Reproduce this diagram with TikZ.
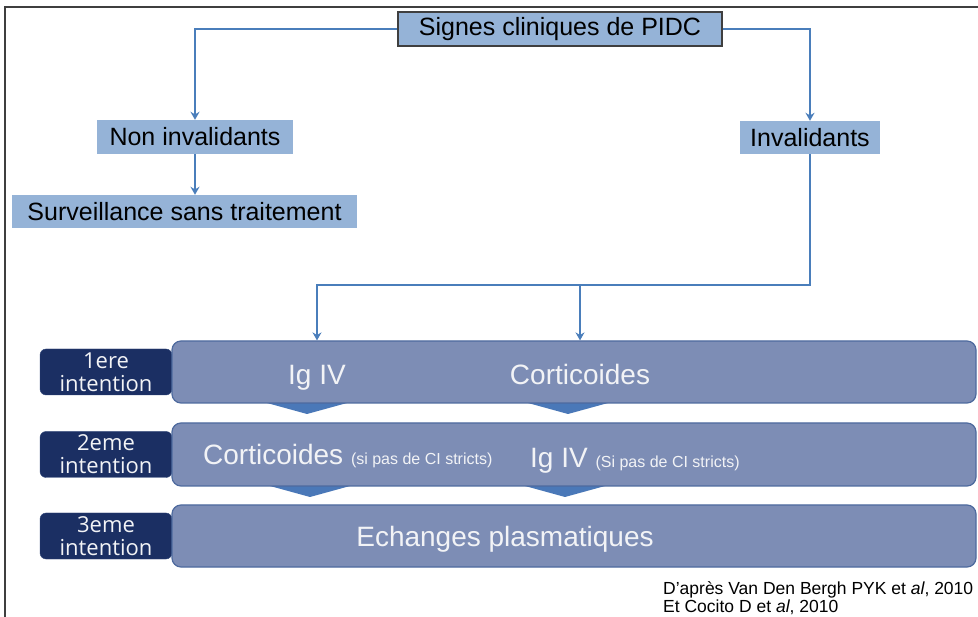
\documentclass[tikz,border=0pt]{standalone}
\usepackage{fontspec}
\setmainfont{Liberation Sans}
\newfontfamily\labelfont{Open Sans}
\usepackage{xcolor}
\usetikzlibrary{arrows.meta,positioning,calc}
\definecolor{topblue}{HTML}{95B3D7}
\definecolor{topedge}{HTML}{3F3F3F}
\definecolor{linkblue}{HTML}{4A7EBB}
\definecolor{barfill}{HTML}{7D8DB5}
\definecolor{baredge}{HTML}{4E6A9E}
\definecolor{chevblue}{HTML}{4A78B8}
\definecolor{navy}{HTML}{1B2F63}
\definecolor{navyedge}{HTML}{2C4478}
\definecolor{bartext}{HTML}{F2F3F6}
\newcommand{\cisize}{\fontsize{16}{18}\selectfont}

\begin{document}
\begin{tikzpicture}[
  x=1pt,y=-1pt,
  font=\fontsize{25}{28}\selectfont,
  topbox/.style={fill=topblue,inner sep=0pt,minimum height=34pt},
  bar/.style={draw=baredge,fill=barfill,line width=1.2pt,rounded corners=9pt,
              minimum width=804pt,inner sep=0pt},
  rank/.style={draw=navyedge,fill=navy,rounded corners=6pt,text=bartext,align=center,
               minimum width=132pt,minimum height=46pt,inner sep=0pt,
               font=\labelfont\fontsize{22}{23}\selectfont},
  bartxt/.style={text=bartext,inner sep=0pt,anchor=base,font=\fontsize{28}{30}\selectfont},
  chev/.style={fill=chevblue},
  link/.style={draw=linkblue,line width=2pt},
  ar/.style={link,-{Stealth[length=8pt,width=9pt]}}
]
\fill[white] (0,0) rectangle (978,617);
\useasboundingbox (0,0) rectangle (978,617);
\draw[topedge,line width=1.5pt] (5,617) -- (5,7) -- (978,7);

% top of the tree
\node[topbox,draw=topedge,line width=1.2pt,minimum width=324pt] (signes) at (560,29) {Signes cliniques de PIDC};
\node[topbox,minimum width=196pt] (noninv) at (195,137) {Non invalidants};
\node[topbox,minimum width=345pt,minimum height=33pt] (surv) at (184.5,211.5) {Surveillance sans traitement};
\node[topbox,minimum width=140pt,minimum height=33pt] (inval) at (810,137.5) {Invalidants};

% treatment lines
\foreach \y [count=\i] in {372,454.5,536} {
  \node[rank] (rank\i) at (106,\y) {\i\ifnum\i=1 ere\else eme\fi\\intention};
}
\foreach \b/\xa/\xb/\yb in {1/307/568/403,2/310/565/486} {
  \foreach \xc in {\xa,\xb}
    \fill[chev] (\xc-40,\yb) -- (\xc+40,\yb) -- (\xc,\yb+11) -- cycle;
}
\node[bar,minimum height=62pt] (bar1) at (574,372) {};
\node[bar,minimum height=63pt] (bar2) at (574,454.5) {};
\node[bar,minimum height=62pt] (bar3) at (574,536) {};

\node[bartxt] (ig1) at (317,385) {Ig IV};
\node[bartxt] (cort1) at (580,385) {Corticoides};
\node[bartxt,anchor=base west] (cort2) at (203,465) {Corticoides {\cisize (si pas de CI stricts)}};
\node[bartxt,anchor=base west] (ig2) at (530,468) {Ig IV {\cisize (Si pas de CI stricts)}};
\node[bartxt] (plasma) at (505,547) {Echanges plasmatiques};

\node[anchor=base west,inner sep=0pt,align=left,font=\fontsize{17.5}{15}\selectfont] (source) at (663,612)
  {D'après Van Den Bergh PYK et \textit{al}, 2010\\Et Cocito D et \textit{al}, 2010};

% connectors
\draw[ar] (signes.west) -| (noninv.north);
\draw[ar] (signes.east) -| (inval.north);
\draw[ar] (noninv.south) -- (noninv.south |- surv.north);
\draw[ar] (inval.south) -- ++(0,131) coordinate (turn) -| (ig1 |- bar1.north);
\draw[ar] (turn -| cort1) -- (cort1 |- bar1.north);
\end{tikzpicture}
\end{document}
